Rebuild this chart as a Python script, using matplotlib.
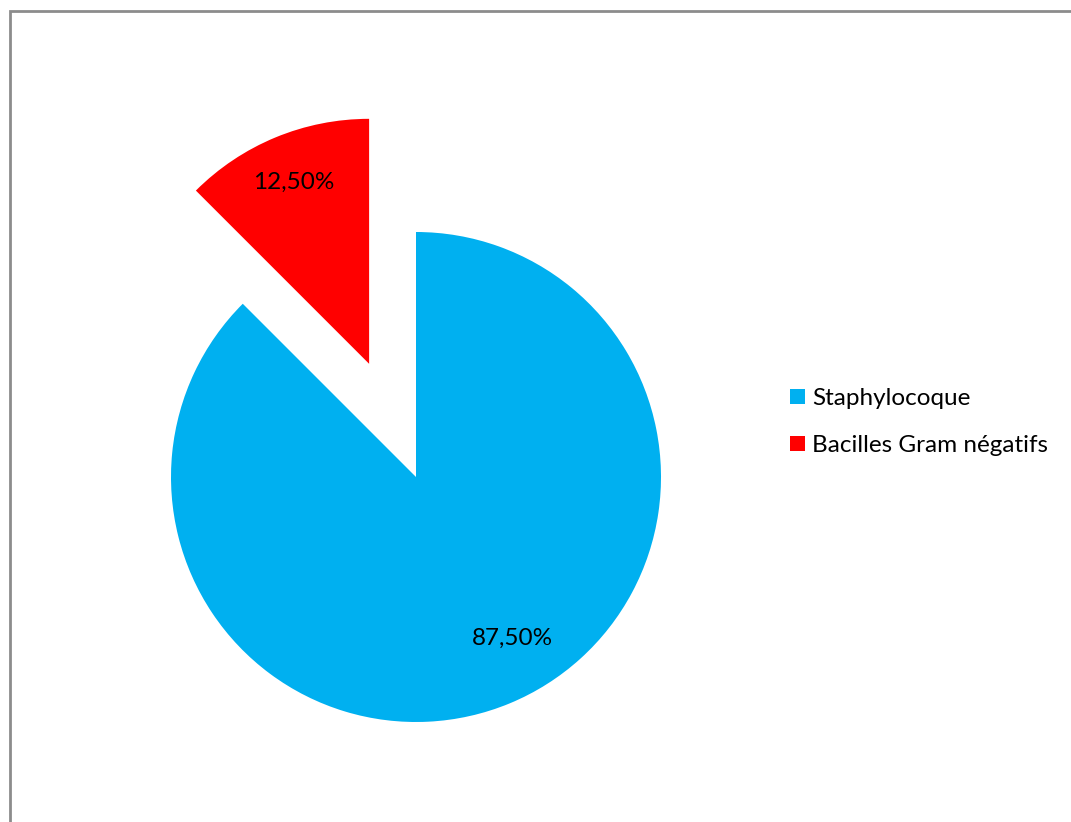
import matplotlib.pyplot as plt
from matplotlib.patches import Rectangle

# Data
labels = ["Staphylocoque", "Bacilles Gram négatifs"]
values = [87.5, 12.5]
colors = ["#00B0F0", "#FF0000"]
explode_frac = [0, 0.5]

plt.rcParams['font.family'] = ['Lato', 'DejaVu Sans']

W, H = 1071, 822
R = 245
fig = plt.figure(figsize=(W / 100, H / 100), dpi=100)
ax = fig.add_axes([0, 0, 1, 1])

# outer frame (only top and left visible in the reference)
ax.add_patch(Rectangle((9.5, -20), W + 40, H - 11.5 + 20, fill=False,
                       edgecolor='#8c8c8c', linewidth=2))

# explode in matplotlib is absolute, so scale by radius
explode = [e * R for e in explode_frac]
wedges, texts, autotexts = ax.pie(values, colors=colors, explode=explode,
                                  startangle=90, counterclock=False,
                                  center=(416, H - 477), radius=R,
                                  autopct=lambda p: ('%.2f%%' % p).replace('.', ','),
                                  pctdistance=0.8,
                                  wedgeprops=dict(linewidth=0),
                                  textprops=dict(fontsize=17.5, color='black'),
                                  frame=True)
# Excel puts the big slice label a bit further round
x0, y0 = autotexts[0].get_position()
autotexts[0].set_position((x0 + 21, y0 + 20))

ax.set_xlim(0, W)
ax.set_ylim(0, H)
ax.set_aspect('equal')
ax.axis('off')

leg = fig.legend(wedges, labels, loc='upper left',
                 bbox_to_anchor=(790 / W, 1 - 388 / H),
                 frameon=False, fontsize=17.5, borderaxespad=0,
                 handlelength=0.62, handleheight=0.62,
                 handletextpad=0.3, labelspacing=1.07, borderpad=0)

fig.savefig("out.png", dpi=100)
